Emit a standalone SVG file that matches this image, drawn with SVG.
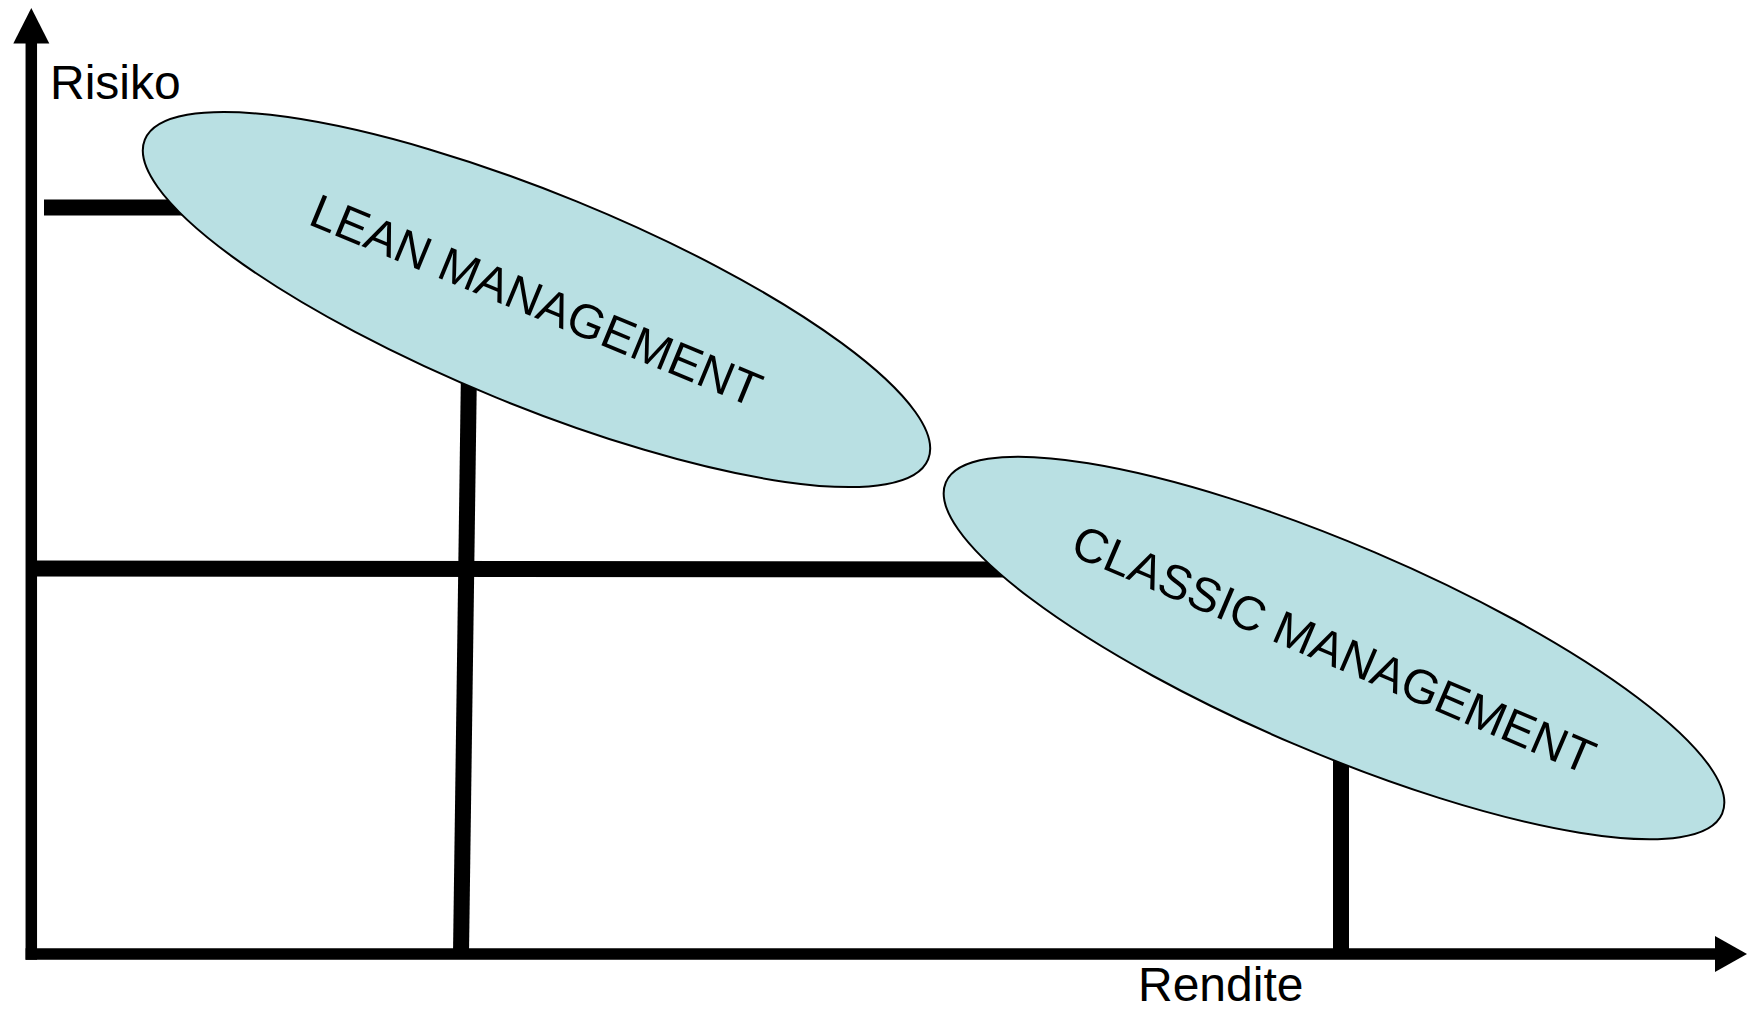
<svg xmlns="http://www.w3.org/2000/svg" width="1747" height="1011" viewBox="0 0 1747 1011">
<style>
.axis{stroke:#000;stroke-width:11.5;fill:none}
.grid{stroke:#000;stroke-width:16;fill:none}
.blob{fill:#B9E0E3;stroke:#000;stroke-width:2}
.lbl{font-family:"Liberation Sans",Arial,sans-serif;font-size:48px;fill:#000}
</style>
<rect width="1747" height="1011" fill="#fff"/>
<g id="connectors">
<line class="axis" x1="31.3" y1="40" x2="31.3" y2="959.8"/>
<polygon points="31.3,8 13.3,43.5 49.3,43.5" fill="#000"/>
<line class="axis" x1="25.6" y1="954" x2="1718" y2="954"/>
<polygon points="1747,954 1715,936 1715,972" fill="#000"/>
<line class="grid" x1="44" y1="207.5" x2="230" y2="207.5"/>
<line class="grid" x1="31" y1="568.5" x2="1030" y2="569.5"/>
<line class="grid" x1="469.5" y1="330" x2="461" y2="954"/>
<line class="grid" x1="1341" y1="700" x2="1341" y2="954"/>
</g>
<g id="lean">
<ellipse class="blob" cx="0" cy="0" rx="423" ry="106" transform="translate(536.5,299.5) rotate(22.2)"/>
<text class="lbl" x="0" y="17" text-anchor="middle" transform="translate(536.5,300) rotate(22.4)">LEAN MANAGEMENT</text>
</g>
<g id="classic">
<ellipse class="blob" cx="0" cy="0" rx="422" ry="104" transform="translate(1334,648) rotate(23.1)"/>
<text class="lbl" x="0" y="17" text-anchor="middle" transform="translate(1334,649) rotate(23.1)">CLASSIC MANAGEMENT</text>
</g>
<g id="labels">
<text class="lbl" x="50" y="99">Risiko</text>
<text class="lbl" x="1138" y="1001">Rendite</text>
</g>
</svg>
